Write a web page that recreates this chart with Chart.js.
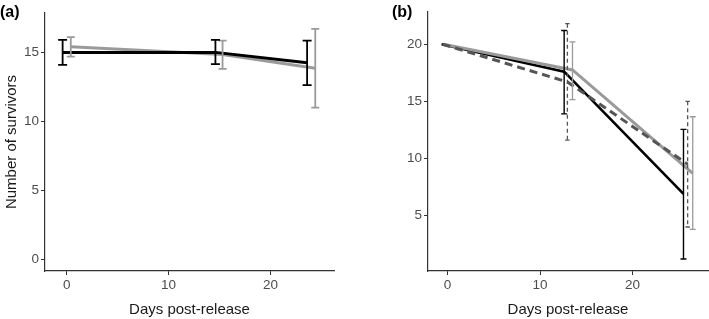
<!DOCTYPE html>
<html><head><meta charset="utf-8">
<script src="https://cdn.jsdelivr.net/npm/chart.js@4.4.1/dist/chart.umd.min.js"></script>
<style>
html,body{margin:0;padding:0;background:#fff;}
#wrap{position:relative;width:709px;height:319px;overflow:hidden;font-family:"Liberation Sans",Arial,Helvetica,sans-serif;}
.pl{position:absolute;font-weight:bold;font-size:16px;color:#000;line-height:1;}
.cv{position:absolute;top:0;}
</style></head><body>
<div id="wrap">
<div class="cv" style="left:0;"><canvas id="ca" width="354" height="319"></canvas></div>
<div class="cv" style="left:354px;"><canvas id="cb" width="355" height="319"></canvas></div>
<div class="pl" style="left:0;top:4px">(a)</div>
<div class="pl" style="left:392px;top:4px">(b)</div>
</div>
<script>
// ---- data: panel (a) ----
const aXTicks = [0, 10, 20];
const aYTicks = [0, 5, 10, 15];
const aBlackX = [-0.4, 14.6, 23.6];
const aBlackY = [15.0, 15.0, 14.25];
const aBlackLo = [14.1, 14.15, 12.63];
const aBlackHi = [15.9, 15.9, 15.85];
const aGrayX = [0.4, 15.3, 24.4];
const aGrayY = [15.4, 14.85, 13.85];
const aGrayLo = [14.7, 13.8, 11.0];
const aGrayHi = [16.1, 15.85, 16.7];
// ---- data: panel (b) ----
const bXTicks = [0, 10, 20];
const bYTicks = [5, 10, 15, 20];
const bBlackX = [-0.65, 12.6, 25.5];
const bBlackY = [20, 17.6, 6.9];
const bBlackLo = [null, 13.9, 1.2];
const bBlackHi = [null, 21.2, 12.55];
const bDashX = [-0.55, 12.95, 25.95];
const bDashY = [20, 16.7, 9.5];
const bDashLo = [null, 11.6, 4.0];
const bDashHi = [null, 21.8, 15.0];
const bGrayX = [-0.45, 13.5, 26.5];
const bGrayY = [20, 17.75, 8.7];
const bGrayLo = [null, 15.15, 3.8];
const bGrayHi = [null, 20.2, 13.65];

const xTitle = 'Days post-release';
const yTitle = 'Number of survivors';

const F = '"Liberation Sans", Arial, Helvetica, sans-serif';
const pts = (xs, ys) => xs.map((x, i) => ({x: x, y: ys[i]}));

const errorBars = {
  id: 'errorBars',
  afterDatasetsDraw(chart) {
    const ctx = chart.ctx, xs = chart.scales.x, ys = chart.scales.y;
    chart.data.datasets.slice().reverse().forEach(ds => {
      if (!ds.errLo) return;
      ctx.save();
      ctx.strokeStyle = ds.errColor || ds.borderColor;
      ctx.lineWidth = ds.errWidth;
      ds.data.forEach((p, i) => {
        const lo = ds.errLo[i], hi = ds.errHi[i];
        if (lo == null || hi == null) return;
        const px = xs.getPixelForValue(p.x), yl = ys.getPixelForValue(lo), yh = ys.getPixelForValue(hi);
        const c = ds.capHalf;
        ctx.setLineDash(ds.errDash || []);
        ctx.beginPath(); ctx.moveTo(px, yh); ctx.lineTo(px, yl); ctx.stroke();
        ctx.setLineDash([]);
        ctx.beginPath();
        ctx.moveTo(px - c, yh); ctx.lineTo(px + c, yh);
        ctx.moveTo(px - c, yl); ctx.lineTo(px + c, yl);
        ctx.stroke();
      });
      ctx.restore();
    });
  }
};

function makeScales(xr, yr, xt, yt, showYTitle, yWidth) {
  const grid = {display: true, drawOnChartArea: false, drawTicks: true, tickLength: 4, color: '#333', lineWidth: 1};
  const border = {display: true, color: '#333', width: 1.2};
  const tick = {font: {size: 13.5, family: F}, color: '#4d4d4d', padding: 2, maxRotation: 0, autoSkip: false};
  return {
    x: {
      type: 'linear', min: xr[0], max: xr[1],
      afterBuildTicks: s => { s.ticks = xt.map(v => ({value: v})); },
      afterFit: s => { s.height = 48; },
      grid: grid, border: border, ticks: tick,
      title: {display: true, text: xTitle, font: {size: 15, family: F}, color: '#1a1a1a', padding: {top: 0, bottom: 0}}
    },
    y: {
      type: 'linear', min: yr[0], max: yr[1],
      afterBuildTicks: s => { s.ticks = yt.map(v => ({value: v})); },
      afterFit: s => { s.width = yWidth; },
      grid: grid, border: border, ticks: tick,
      title: {display: showYTitle, text: yTitle, font: {size: 15, family: F}, color: '#1a1a1a', padding: {top: 3, bottom: 0}}
    }
  };
}

function lineDs(label, xs, ys, lo, hi, color, width, dash, errW, cap, errDash) {
  return {
    label: label, data: pts(xs, ys), showLine: true, borderColor: color, backgroundColor: color,
    borderWidth: width, borderDash: dash, pointRadius: 0, pointHoverRadius: 0, tension: 0, fill: false,
    errLo: lo, errHi: hi, errWidth: errW, capHalf: cap, errDash: errDash,
    borderCapStyle: 'butt', borderJoinStyle: 'miter'
  };
}

const common = {
  responsive: false, animation: false, events: [],
  plugins: {legend: {display: false}, tooltip: {enabled: false}}
};

new Chart(document.getElementById('ca'), {
  type: 'scatter',
  data: {datasets: [
    lineDs('black', aBlackX, aBlackY, aBlackLo, aBlackHi, '#000000', 3, [], 1.8, 4.5, null),
    lineDs('gray', aGrayX, aGrayY, aGrayLo, aGrayHi, '#9a9a9a', 3, [], 1.8, 4, null)
  ]},
  options: Object.assign({}, common, {
    layout: {padding: {left: 0, top: 13, right: 20, bottom: 0}},
    scales: makeScales([-2.13, 26.24], [-0.82, 17.85], aXTicks, aYTicks, true, 45)
  }),
  plugins: [errorBars]
});

new Chart(document.getElementById('cb'), {
  type: 'scatter',
  data: {datasets: [
    lineDs('dashed', bDashX, bDashY, bDashLo, bDashHi, '#555555', 3, [8, 5], 1.3, 2.2, [4, 3]),
    lineDs('gray', bGrayX, bGrayY, bGrayLo, bGrayHi, '#9a9a9a', 3, [], 1.3, 3, null),
    lineDs('black', bBlackX, bBlackY, bBlackLo, bBlackHi, '#000000', 2.6, [], 1.4, 3, null)
  ]},
  options: Object.assign({}, common, {
    layout: {padding: {left: 0, top: 12, right: 1, bottom: 0}},
    scales: makeScales([-2.12, 28.15], [0.15, 22.82], bXTicks, bYTicks, false, 74)
  }),
  plugins: [errorBars]
});
</script>
</body></html>
